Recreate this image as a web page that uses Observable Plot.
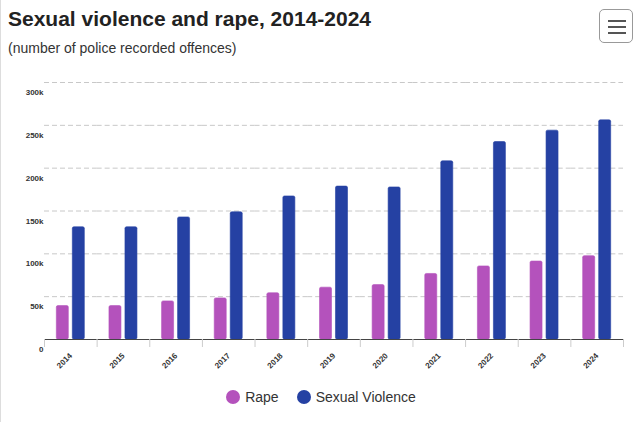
<!DOCTYPE html>
<html>
<head>
<meta charset="utf-8">
<script src="https://cdn.jsdelivr.net/npm/d3@7"></script>
<script src="https://cdn.jsdelivr.net/npm/@observablehq/plot@0.6"></script>
<style>
  html, body { margin: 0; padding: 0; background: #fff; }
  body { width: 640px; height: 422px; position: relative; overflow: hidden; font-family: "Liberation Sans", Arial, sans-serif; border-left: 1px solid #ddd; box-sizing: border-box; }
  #title { position: absolute; left: 7px; top: 7px; font-size: 21px; font-weight: bold; color: #222; white-space: nowrap; }
  #subtitle { position: absolute; left: 7px; top: 40px; font-size: 14px; color: #333; white-space: nowrap; }
  #menu { position: absolute; left: 598px; top: 9px; width: 34px; height: 34px; border: 1px solid #999; border-radius: 5px; box-sizing: border-box; }
  #menu span { position: absolute; left: 8px; width: 18px; height: 2px; background: #555; }
  #chart { position: absolute; left: -1px; top: 60px; }
  #legend { position: absolute; top: 389px; left: 0; width: 640px; display: flex; justify-content: center; gap: 18px; font-size: 14px; color: #333; }
  #legend .item { display: flex; align-items: center; gap: 5px; }
  #legend .dot { width: 14px; height: 14px; border-radius: 50%; display: inline-block; }
</style>
</head>
<body>
<div id="title">Sexual violence and rape, 2014-2024</div>
<div id="subtitle">(number of police recorded offences)</div>
<div id="menu"><span style="top:10px"></span><span style="top:16px"></span><span style="top:22px"></span></div>
<div id="chart"></div>
<div id="legend"></div>
<script>
const years = ["2014","2015","2016","2017","2018","2019","2020","2021","2022","2023","2024"];
const seriesNames = ["Rape", "Sexual Violence"];
const rape = [39000, 39000, 44500, 48000, 54000, 60500, 63500, 76500, 85300, 91000, 97300];
const sexualViolence = [131000, 131000, 142500, 148500, 167000, 178500, 177500, 208000, 230500, 243800, 255800];
const colors = ["#b452bc", "#2541a3"];
const yTicks = [0, 50000, 100000, 150000, 200000, 250000, 300000];

const data = years.flatMap((y, i) => [
  {year: y, series: seriesNames[0], value: rape[i]},
  {year: y, series: seriesNames[1], value: sexualViolence[i]}
]);

const W = 640, H = 320, mL = 44, mR = 17;
const bw = (W - mL - mR) / years.length;

const chart = Plot.plot({
  width: W,
  height: H,
  marginTop: 22,
  marginBottom: 41,
  marginLeft: mL,
  marginRight: mR,
  style: {fontFamily: "Liberation Sans, Arial, sans-serif", color: "#333", background: "transparent"},
  fx: {domain: years, padding: 0, round: false, label: null, axis: null},
  x: {domain: seriesNames, paddingInner: 0.25, paddingOuter: 0.77, round: false, axis: null},
  y: {domain: [0, 300000], label: null},
  color: {domain: seriesNames, range: colors},
  marks: [
    Plot.gridY(yTicks, {stroke: "#c8c8c8", strokeOpacity: 1, strokeDasharray: "5,3"}),
    Plot.axisY(yTicks, {tickSize: 0, tickPadding: 1, dy: 10, fontSize: 8, fontWeight: "bold", fill: "#333",
      tickFormat: d => d === 0 ? "0" : d / 1000 + "k", label: null}),
    Plot.barY(data, {fx: "year", x: "series", y: "value", fill: "series", stroke: "series", strokeWidth: 0.6, rx: 1.5}),
    Plot.ruleY([0], {stroke: "#444", strokeWidth: 1}),
    Plot.axisFx({anchor: "bottom", tickSize: 8, text: null, dx: -bw / 2, stroke: "#ccc", label: null}),
    Plot.axisFx({anchor: "bottom", ticks: [years[years.length - 1]], tickSize: 8, text: null, dx: bw / 2, stroke: "#ccc", label: null}),
    Plot.axisFx({anchor: "bottom", tickSize: 0, tickRotate: -45, tickPadding: 15, fontSize: 8, fontWeight: "bold", fill: "#333", label: null})
  ]
});
document.getElementById("chart").appendChild(chart);

const legend = document.getElementById("legend");
seriesNames.forEach((s, i) => {
  const item = document.createElement("div");
  item.className = "item";
  const dot = document.createElement("span");
  dot.className = "dot";
  dot.style.background = colors[i];
  const t = document.createElement("span");
  t.textContent = s;
  item.appendChild(dot);
  item.appendChild(t);
  legend.appendChild(item);
});
</script>
</body>
</html>
